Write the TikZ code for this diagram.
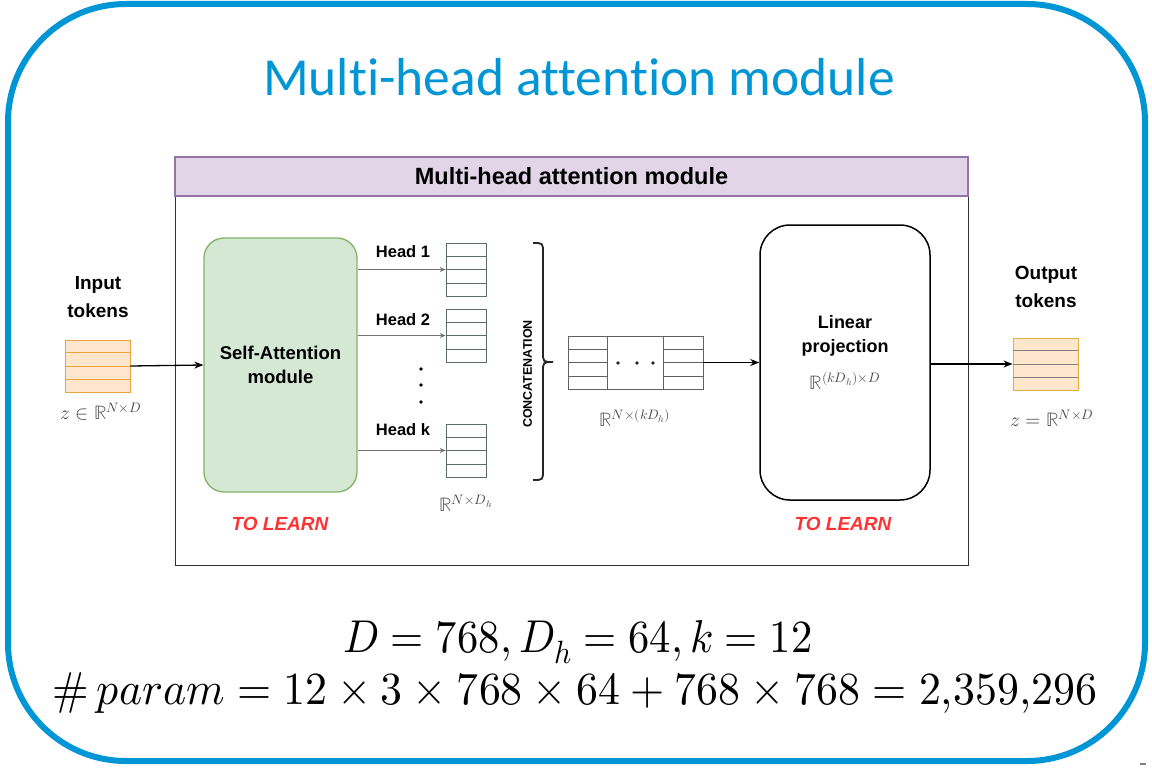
\documentclass[tikz,border=0pt]{standalone}
\usepackage{graphicx}
\usepackage{fontspec}
\usepackage{amsmath}
\usepackage{unicode-math}
\setmainfont{Liberation Sans}
\setmathfont{Latin Modern Math}
\newfontfamily\titlefont[Ligatures=NoCommon]{Carlito}
\usetikzlibrary{arrows.meta,calc}

\definecolor{frameblue}{HTML}{0096D6}
\definecolor{tokfill}{HTML}{FFE6CC}
\definecolor{tokline}{HTML}{E8A33A}
\definecolor{outline}{HTML}{E0B040}
\definecolor{hdrfill}{HTML}{E1D5E7}
\definecolor{hdrline}{HTML}{9673A6}
\definecolor{safill}{HTML}{D5E8D4}
\definecolor{saline}{HTML}{82B366}
\definecolor{learnred}{HTML}{FF3333}
\definecolor{cellgray}{HTML}{5A6B6B}

\tikzset{
  tok/.style={draw=tokline, fill=tokfill, line width=0.9pt, minimum width=65pt, minimum height=52pt, inner sep=0pt},
  headbox/.style={draw=cellgray, fill=white, line width=0.7pt, minimum width=40pt, minimum height=53pt, inner sep=0pt},
  lab/.style={font=\bfseries\fontsize{19}{28}\selectfont, align=center},
  hlab/.style={font=\bfseries\fontsize{16.5}{20}\selectfont},
  learn/.style={text=learnred, font=\bfseries\itshape\fontsize{19}{22}\selectfont},
  mlab/.style={text=black!72, font=\fontsize{19.5}{22}\selectfont},
  conn/.style={line width=1.3pt, -{Stealth[length=9pt,width=7pt]}},
  hconn/.style={draw=gray!90!black, line width=0.9pt, -{Stealth[length=6pt,width=5pt]}},
  eq/.style={font=\fontsize{46}{52}\selectfont, anchor=base, inner sep=0pt},
}

\newcommand{\cellrows}[3]{% node, number of rows, colour
  \foreach \i in {1,...,\numexpr#2-1\relax}{
    \draw[#3, line width=0.7pt] ($(#1.north west)!{\i/#2}!(#1.south west)$) -- ($(#1.north east)!{\i/#2}!(#1.south east)$);
  }}

\begin{document}
\begin{tikzpicture}[x=1pt,y=-1pt]
\useasboundingbox (0,0) rectangle (1152,768);

% outer frame and title
\draw[frameblue, line width=6pt, rounded corners=118pt] (8,4) rectangle (1145,761);
\node[text=frameblue, font=\titlefont\fontsize{53.5}{60}\selectfont] (title) at (579,77) {Multi-head attention module};

% module box with header band
\draw[black!80, line width=1pt] (175,196) rectangle (968,565);
\node[draw=hdrline, fill=hdrfill, line width=1.2pt, minimum width=793pt, minimum height=39pt, inner sep=0pt,
      font=\bfseries\fontsize{23.5}{26}\selectfont] (hdr) at (571.5,176.5) {Multi-head attention module};

% input tokens
\node[lab] (inlab) at (98,297) {Input\\tokens};
\node[tok] (in) at (97.5,366) {};
\cellrows{in}{4}{tokline}
\node[mlab] (inm) at (101,412) {$z \in \mathbb{R}^{N\times D}$};

% self-attention block
\node[draw=saline, fill=safill, line width=1.3pt, rounded corners=20pt, minimum width=153pt, minimum height=254pt,
      lab, font=\bfseries\fontsize{18.5}{24}\selectfont] (sa) at (280.5,365) {Self-Attention\\module};
\node[learn] (learn1) at (280,524) {TO LEARN};
\draw[conn] (in.east) -- (sa.west);

% heads
\node[headbox] (h1) at (466,269.5) {};
\node[headbox] (h2) at (466,335.5) {};
\node[headbox] (hk) at (466,450.5) {};
\cellrows{h1}{4}{cellgray}
\cellrows{h2}{4}{cellgray}
\cellrows{hk}{4}{cellgray}
\draw[hconn] (sa.east |- h1.west) -- (h1.west);
\draw[hconn] (sa.east |- h2.west) -- (h2.west);
\draw[hconn] (sa.east |- hk.west) -- (hk.west);
\node[hlab] (hl1) at (403,252) {Head 1};
\node[hlab] (hl2) at (403,320) {Head 2};
\node[hlab] (hlk) at (403,430) {Head k};
\foreach \yy in {369,385,402}{\fill (421,\yy) circle (1.9pt);}
\node[mlab] (hm) at (466,503) {$\mathbb{R}^{N\times D_h}$};

% concatenation brace
\draw[black!85, line width=1.8pt]
  (533,243) .. controls (543,243) .. (543,253) -- (543,352) .. controls (543,362) .. (553,362)
  .. controls (543,362) .. (543,372) -- (543,470) .. controls (543,480) .. (533,480);
\node[rotate=90, font=\bfseries\fontsize{12.5}{14}\selectfont] (cat) at (527.5,374) {CONCATENATION};

% concatenated matrix
\node[draw=gray!75!black, fill=white, line width=0.8pt, minimum width=135pt, minimum height=53pt, inner sep=0pt] (cc) at (635.5,362.5) {};
\node[minimum width=39pt, minimum height=53pt, inner sep=0pt] (ccl) at (587.5,362.5) {};
\node[minimum width=39pt, minimum height=53pt, inner sep=0pt] (ccr) at (683.5,362.5) {};
\draw[gray!75!black, line width=0.8pt] (ccl.north east) -- (ccl.south east) (ccr.north west) -- (ccr.south west);
\cellrows{ccl}{4}{gray!75!black}
\cellrows{ccr}{4}{gray!75!black}
\foreach \xx in {618,637,653}{\fill[black!85] (\xx,363) circle (1.9pt);}
\node[mlab] (ccm) at (635,418) {$\mathbb{R}^{N\times (kD_h)}$};

% linear projection
\node[draw=black, fill=white, line width=1.5pt, rounded corners=30pt, minimum width=170pt, minimum height=275pt] (lp) at (845,362.5) {};
\node[font=\bfseries\fontsize{18}{24}\selectfont, align=center] (lpt) at (845,336) {Linear\\projection};
\node[mlab] (lpm) at (845,381) {$\mathbb{R}^{(kD_h)\times D}$};
\node[learn] (learn2) at (843,524) {TO LEARN};
\draw[conn] (cc.east) -- (lp.west);

% output tokens
\node[lab] (outlab) at (1046,287) {Output\\tokens};
\node[tok, draw=outline] (out) at (1045.5,364) {};
\cellrows{out}{4}{gray}
\node[mlab] (outm) at (1052,418) {$z = \mathbb{R}^{N\times D}$};
\draw[conn] (lp.east |- out.west) -- (out.west);

% parameter count
\node[eq] (eq1) at (578,652) {\scalebox{0.925}[1]{$D=768, D_h=64, k=12$}};
\node[eq] (eq2) at (575,704) {\scalebox{0.954}[1]{$\#\,param=12\times 3\times 768\times 64+768\times 768=2{,}359{,}296$}};

% small mark at the lower right corner
\draw[gray, line width=2pt] (1140,764) -- (1146,764);
\end{tikzpicture}
\end{document}
